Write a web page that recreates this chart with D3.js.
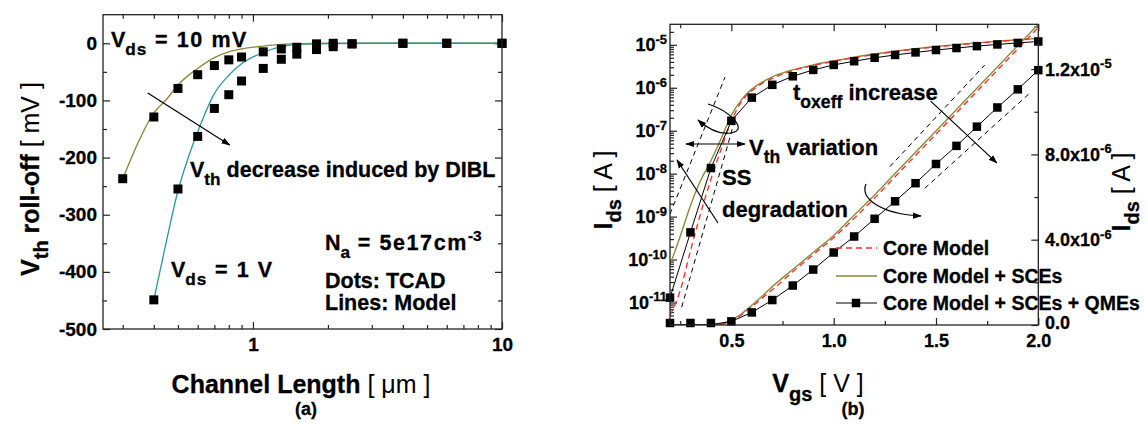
<!DOCTYPE html>
<html><head><meta charset="utf-8">
<script src="https://cdn.jsdelivr.net/npm/d3@7"></script>
<style>
body{margin:0;background:#fff;}
svg text{font-family:"Liberation Sans",Arial,Helvetica,sans-serif;font-weight:bold;fill:#000;stroke:#000;stroke-width:0.3px;}
svg tspan[font-weight="normal"]{stroke-width:0;}
</style></head><body>
<svg id="c" width="1146" height="425"></svg>
<script>
// ---------------- Panel (a) data ----------------
const lenTcad10mV = [0.3,0.4,0.5,0.6,0.7,0.8,0.9,1.1,1.3,1.5,1.8,2.1,2.5,4,6,10];
const tcad10mV    = [-237,-129,-79,-55,-39,-29,-24,-15,-10,-7,-1,0,-1,0,0,0];
const lenTcad1V   = [0.4,0.5,0.6,0.7,0.8,0.9,1.1,1.3,1.5,1.8,2.1,2.5,4,6,10];
const tcad1V      = [-449,-255,-163,-114,-90,-66,-44,-28,-19,-11,-6,-1,0,0,0];
const lenModel10mV = [0.3,0.35,0.4,0.45,0.5,0.6,0.7,0.8,0.9,1.1,1.3,1.5,2,3,10];
const model10mV    = [-237,-169,-122,-98,-73,-44,-25,-15,-10,-5,-2,-1,0,0,0];
const lenModel1V   = [0.4,0.45,0.5,0.55,0.6,0.7,0.8,0.9,1.1,1.3,1.5,2,3,10];
const model1V      = [-449,-345,-258,-200,-155,-88,-56,-36,-16,-6,-2,-0.5,0,0];
const yTicksA = [-500,-400,-300,-200,-100,0];
const yMinorA = [-450,-350,-250,-150,-50];
const xTicksA = [1,10];
const xMinorA = [0.3,0.4,0.5,0.6,0.7,0.8,0.9,2,3,4,5,6,7,8,9];

// ---------------- Panel (b) data ----------------
const vgsTcad = [0.2,0.3,0.4,0.5,0.6,0.7,0.8,0.9,1.0,1.1,1.2,1.3,1.4,1.5,1.6,1.7,1.8,1.9,2.0];
const idsQME  = [1.3e-11,4.3e-10,1.35e-8,1.7e-7,5.9e-7,1.17e-6,1.85e-6,2.6e-6,3.4e-6,4.15e-6,4.98e-6,5.8e-6,6.65e-6,7.55e-6,8.4e-6,9.3e-6,10.2e-6,11.05e-6,11.95e-6];
const vgsModel = [0.2,0.25,0.3,0.35,0.4,0.45,0.5,0.55,0.6,0.65,0.7,0.8,0.9,1.0,1.1,1.2,1.3,1.4,1.5,1.6,1.7,1.8,1.9,2.0];
const idsSCE  = [7.5e-11,3.5e-10,1.8e-9,7e-9,2e-8,6.5e-8,2.3e-7,5.3e-7,9.3e-7,1.35e-6,1.8e-6,2.6e-6,3.4e-6,4.2e-6,5.15e-6,6.1e-6,7.1e-6,8.1e-6,9.1e-6,10.1e-6,11.1e-6,12.1e-6,13.1e-6,14.1e-6];
const idsCore = [5e-12,1.9e-11,1.6e-10,1.2e-9,7.4e-9,3.7e-8,1.66e-7,4.8e-7,8.5e-7,1.26e-6,1.65e-6,2.5e-6,3.3e-6,4.1e-6,5.0e-6,5.95e-6,6.95e-6,7.95e-6,8.95e-6,9.95e-6,10.95e-6,11.95e-6,12.95e-6,13.95e-6];
// guide lines (dashed) : [vgs, ids]
const guideLog1 = [[0.2,1.15e-9],[0.469,1.77e-6]];
const guideLog2 = [[0.257,7.8e-12],[0.52,2.0e-7]];
const guideLin1 = [[1.274,7.42e-6],[1.738,12.19e-6]];
const guideLin2 = [[1.445,6.41e-6],[1.958,10.87e-6]];
const xTicksB = [0.5,1.0,1.5,2.0];
const xMinorB = [0.25,0.75,1.25,1.75];
const yLogTicksB = [1e-11,1e-10,1e-9,1e-8,1e-7,1e-6,1e-5];
const yLinTicksB = [0,4e-6,8e-6,1.2e-5];
const yLinMinorB = [2e-6,6e-6,1e-5,1.4e-5];
const yLinLabelsB = [["0.0",""],["4.0x10","-6"],["8.0x10","-6"],["1.2x10","-5"]];
const legendB = ["Core Model","Core Model + SCEs","Core Model + SCEs + QMEs"];

const OLIVE="#8a8a3c", TEAL="#2a9898", RED="#ff2a2a", FRAME="#222";
const svg=d3.select("#c");

function rich(x,y,parts,size,anchor,rot){
  const t=svg.append("text").attr("font-size",size).attr("text-anchor",anchor||"start");
  if(rot!==undefined) t.attr("transform",`translate(${x},${y}) rotate(${rot})`);
  else t.attr("x",x).attr("y",y);
  let shift=0;
  parts.forEach(p=>{
    const [s,kind,w,ls]=p;
    const ts=t.append("tspan").text(s);
    const target= kind==="sub"? size*0.36 : kind==="sup"? -size*0.42 : 0;
    ts.attr("dy",target-shift); shift=target;
    if(kind) ts.attr("font-size",size*(kind==="sub"?0.8:0.72));
    if(w) ts.attr("font-weight",w);
    if(ls) ts.attr("letter-spacing",ls);
  });
  return t;
}
const defs=svg.append("defs");
defs.append("marker").attr("id","ah").attr("viewBox","0 0 10 10").attr("refX",9).attr("refY",5)
  .attr("markerWidth",9).attr("markerHeight",9).attr("markerUnits","userSpaceOnUse").attr("orient","auto-start-reverse")
  .append("path").attr("d","M0,1.5 L10,5 L0,8.5 Z").attr("fill","#000");

function axisStyle(g){g.select(".domain").remove();g.selectAll("line").attr("stroke",FRAME).attr("stroke-width",1.2);g.selectAll("text").attr("fill","#000");}
function labelStyle(sel,size){sel.selectAll("text").attr("font-size",size).style("font-family","Liberation Sans, Arial").style("font-weight","bold");}

// ================= Panel (a) =================
const xA=d3.scaleLog().domain([0.25,10]).range([103,502]);
const yA=d3.scaleLinear().domain([-500,50]).range([329,14.7]);
defs.append("clipPath").attr("id","clipA").append("rect").attr("x",103).attr("y",14.7).attr("width",399).attr("height",314.3);

svg.append("g").attr("transform","translate(103,0)").call(d3.axisLeft(yA).tickValues(yTicksA).tickSize(-7).tickPadding(6).tickFormat(d=>String(d)))
  .call(axisStyle).call(labelStyle,19);
svg.append("g").attr("transform","translate(103,0)").call(d3.axisLeft(yA).tickValues(yMinorA).tickSize(-4).tickFormat("")).call(axisStyle);
svg.append("g").attr("transform","translate(502,0)").call(d3.axisRight(yA).tickValues(yTicksA).tickSize(-7).tickFormat("")).call(axisStyle);
svg.append("g").attr("transform","translate(502,0)").call(d3.axisRight(yA).tickValues(yMinorA).tickSize(-4).tickFormat("")).call(axisStyle);
svg.append("g").attr("transform","translate(0,329)").call(d3.axisBottom(xA).tickValues(xTicksA).tickSize(-7).tickPadding(9).tickFormat(d=>String(d)))
  .call(axisStyle).call(labelStyle,19);
svg.append("g").attr("transform","translate(0,329)").call(d3.axisBottom(xA).tickValues(xMinorA).tickSize(-4).tickFormat("")).call(axisStyle);
svg.append("g").attr("transform","translate(0,14.7)").call(d3.axisTop(xA).tickValues(xTicksA).tickSize(-7).tickFormat("")).call(axisStyle);
svg.append("g").attr("transform","translate(0,14.7)").call(d3.axisTop(xA).tickValues(xMinorA).tickSize(-4).tickFormat("")).call(axisStyle);

const gA=svg.append("g").attr("clip-path","url(#clipA)");
const lineA=d3.line().x(d=>xA(d[0])).y(d=>yA(d[1])).curve(d3.curveMonotoneX);
gA.append("path").attr("d",lineA(d3.zip(lenModel10mV,model10mV))).attr("fill","none").attr("stroke",OLIVE).attr("stroke-width",1.3);
gA.append("path").attr("d",lineA(d3.zip(lenModel1V,model1V))).attr("fill","none").attr("stroke",TEAL).attr("stroke-width",1.3);
const mA=9;
[[lenTcad10mV,tcad10mV],[lenTcad1V,tcad1V]].forEach(([xs,ys])=>{
  svg.append("g").selectAll("rect").data(d3.zip(xs,ys)).join("rect")
    .attr("x",d=>xA(d[0])-mA/2).attr("y",d=>yA(d[1])-mA/2).attr("width",mA).attr("height",mA).attr("fill","#000");
});
svg.append("rect").attr("x",103).attr("y",14.7).attr("width",399).attr("height",314.3).attr("fill","none").attr("stroke",FRAME).attr("stroke-width",1.3);

// arrow (a)
svg.append("line").attr("x1",xA(0.378)).attr("y1",yA(-87)).attr("x2",xA(0.806)).attr("y2",yA(-178))
  .attr("stroke","#000").attr("stroke-width",1.2).attr("marker-end","url(#ah)");

rich(111,47,[["V"],["ds","sub",null,"1"],[" = 10 mV",null,null,"1.6"]],21.5);
rich(171,277,[["V"],["ds","sub",null,"1"],[" = 1 V",null,null,"1.6"]],21.5);
rich(190,177,[["V"],["th","sub"],[" decrease induced by DIBL"]],21.5);
rich(325,250,[["N"],["a","sub"],[" = 5e17cm",null,null,"1.6"],["-3","sup"]],21.5);
rich(325,288,[["Dots: TCAD"]],21.5);
rich(325,310,[["Lines: Model"]],21.5);
rich(39,179,[["V"],["th","sub"],[" roll-off "],["[ mV ]",null,"normal"]],25,"middle",-90);
rich(301,393,[["Channel Length "],["[ μm ]",null,"normal"]],25,"middle");
rich(306,415,[["(a)"]],18,"middle");

// ================= Panel (b) =================
const xB=d3.scaleLinear().domain([0.2,2.0]).range([670,1038.3]);
const yBlog=d3.scaleLog().domain([3e-12,3e-5]).range([325,24.3]);
const yBlin=d3.scaleLinear().domain([0,1.41e-5]).range([325,24.3]);
defs.append("clipPath").attr("id","clipB").append("rect").attr("x",670).attr("y",24.3).attr("width",368.3).attr("height",300.7);

svg.append("g").attr("transform","translate(0,325)").call(d3.axisBottom(xB).tickValues(xTicksB).tickSize(-7).tickPadding(9).tickFormat(d3.format(".1f")))
  .call(axisStyle).call(labelStyle,18);
svg.append("g").attr("transform","translate(0,325)").call(d3.axisBottom(xB).tickValues(xMinorB).tickSize(-4).tickFormat("")).call(axisStyle);
svg.append("g").attr("transform","translate(0,24.3)").call(d3.axisTop(xB).tickValues(xTicksB).tickSize(-7).tickFormat("")).call(axisStyle);
svg.append("g").attr("transform","translate(0,24.3)").call(d3.axisTop(xB).tickValues(xMinorB).tickSize(-4).tickFormat("")).call(axisStyle);
// log left ticks
const logMinor=[];
yLogTicksB.concat([1e-12]).forEach(dec=>{[2,3,4,5,6,7,8,9].forEach(m=>{const v=dec*m; if(v>=3e-12&&v<=3e-5) logMinor.push(v);});});
svg.append("g").attr("transform","translate(670,0)").call(d3.axisLeft(yBlog).tickValues(yLogTicksB).tickSize(-7).tickFormat("")).call(axisStyle);
svg.append("g").attr("transform","translate(670,0)").call(d3.axisLeft(yBlog).tickValues(logMinor).tickSize(-4).tickFormat("")).call(axisStyle);
yLogTicksB.forEach(v=>{
  const e=Math.round(Math.log10(v));
  rich(667,yBlog(v)+6.5,[["10"],[String(e),"sup"]],18,"end");
});
// linear right ticks
svg.append("g").attr("transform","translate(1038.3,0)").call(d3.axisRight(yBlin).tickValues(yLinTicksB).tickSize(-7).tickFormat("")).call(axisStyle);
svg.append("g").attr("transform","translate(1038.3,0)").call(d3.axisRight(yBlin).tickValues(yLinMinorB).tickSize(-4).tickFormat("")).call(axisStyle);
yLinTicksB.forEach((v,i)=>{
  const [a,b]=yLinLabelsB[i];
  const parts=[[a]]; if(b) parts.push([b,"sup"]);
  rich(1045,yBlin(v)+6.5-(i===0?2.5:0),parts,18,"start");
});

const gB=svg.append("g").attr("clip-path","url(#clipB)");
const lineLog=d3.line().x(d=>xB(d[0])).y(d=>yBlog(d[1])).curve(d3.curveMonotoneX);
const lineLin=d3.line().x(d=>xB(d[0])).y(d=>yBlin(d[1])).curve(d3.curveMonotoneX);
const segLog=d3.line().x(d=>xB(d[0])).y(d=>yBlog(d[1]));
const segLin=d3.line().x(d=>xB(d[0])).y(d=>yBlin(d[1]));
[[guideLog1,segLog],[guideLog2,segLog],[guideLin1,segLin],[guideLin2,segLin]].forEach(([d,f])=>{
  gB.append("path").attr("d",f(d)).attr("fill","none").attr("stroke","#000").attr("stroke-width",1).attr("stroke-dasharray","5,4");
});
const sce=d3.zip(vgsModel,idsSCE), core=d3.zip(vgsModel,idsCore), qme=d3.zip(vgsTcad,idsQME);
[lineLog,lineLin].forEach(f=>{
  gB.append("path").attr("d",f(sce)).attr("fill","none").attr("stroke",OLIVE).attr("stroke-width",1.4);
  gB.append("path").attr("d",f(core)).attr("fill","none").attr("stroke",RED).attr("stroke-width",1.3).attr("stroke-dasharray","6,4");
});
gB.append("path").attr("d",segLog(qme)).attr("fill","none").attr("stroke","#000").attr("stroke-width",1);
gB.append("path").attr("d",segLin(qme)).attr("fill","none").attr("stroke","#000").attr("stroke-width",1);
const mB=8.5;
[yBlog,yBlin].forEach(ys=>{
  svg.append("g").selectAll("rect").data(qme).join("rect")
    .attr("x",d=>xB(d[0])-mB/2).attr("y",d=>Math.min(ys(d[1]),323)-mB/2).attr("width",mB).attr("height",mB).attr("fill","#000");
});
svg.append("rect").attr("x",670).attr("y",24.3).attr("width",368.3).attr("height",300.7).attr("fill","none").attr("stroke",FRAME).attr("stroke-width",1.3);

// legend
const legY=[248,276,303];
legendB.forEach((name,i)=>{
  const l=svg.append("line").attr("x1",836).attr("x2",877).attr("y1",legY[i]).attr("y2",legY[i]).attr("stroke-width",i===2?1:1.4);
  if(i===0) l.attr("stroke",RED).attr("stroke-dasharray","6,4");
  if(i===1) l.attr("stroke",OLIVE);
  if(i===2){ l.attr("stroke","#000"); svg.append("rect").attr("x",856-mB/2).attr("y",legY[i]-mB/2).attr("width",mB).attr("height",mB).attr("fill","#000"); }
  rich(883,legY[i]+7,[[name]],19.5);
});

// annotations (b)
const arrow=(d)=>svg.append("path").attr("d",d).attr("fill","none").attr("stroke","#000").attr("stroke-width",1.2);
arrow(`M${xB(1.474)},${yBlin(10.5e-6)} L${xB(1.797)},${yBlin(7.6e-6)}`).attr("marker-end","url(#ah)");
arrow("M686,144 L745,144").attr("marker-end","url(#ah)").attr("marker-start","url(#ah)");
arrow("M718,223 L677,160").attr("marker-end","url(#ah)");
arrow("M708,104 C728,110 750,130 731,133 C718,135 707,128 698,120").attr("marker-end","url(#ah)");
arrow("M866,184 C860,198 880,214 921,216").attr("marker-end","url(#ah)");

rich(793,100,[["t"],["oxeff","sub"],[" increase"]],22);
rich(749,155,[["V"],["th","sub"],[" variation"]],22);
rich(722,185,[["SS"]],22);
rich(722,217,[["degradation"]],22);
rich(818,392,[["V"],["gs","sub"],[" "],["[ V ]",null,"normal"]],25,"middle");
rich(612,190,[["I"],["ds","sub"],[" "],["[ A ]",null,"normal"]],25,"middle",-90);
rich(1130,192,[["I"],["ds","sub"],[" "],["[ A ]",null,"normal"]],25,"middle",-90);
rich(853,415,[["(b)"]],18,"middle");
</script></body></html>
